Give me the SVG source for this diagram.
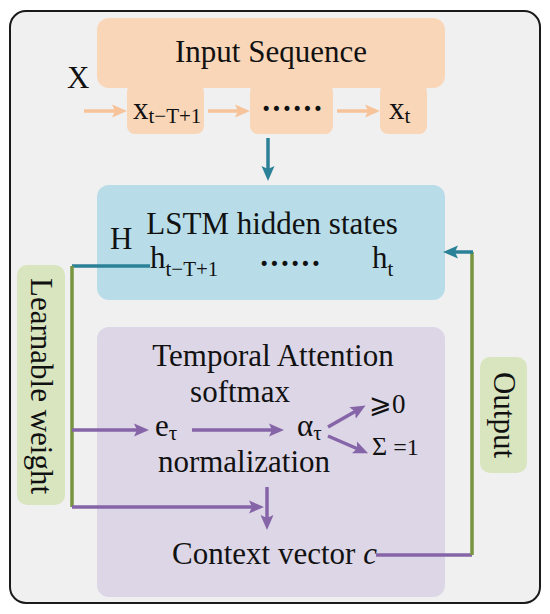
<svg xmlns="http://www.w3.org/2000/svg" width="550" height="614" viewBox="0 0 550 614">
<defs>
<style>
text{font-family:"Liberation Serif","Times New Roman",serif;fill:#111;}
.t30{font-size:31px;}
.sub{font-size:21px;}
.dots{font-size:31px;font-weight:bold;}
.ln{fill:none;stroke-width:3.5;}
.or{stroke:#f6c39a;}
.te{stroke:#2b8197;}
.pu{stroke:#8664a8;}
.gr{stroke:#77953f;}
</style>
<marker id="ao" markerUnits="userSpaceOnUse" markerWidth="15" markerHeight="15" refX="4" refY="7.5" orient="auto"><path d="M0,1 L15,7.5 L0,14 L3,7.5 z" fill="#f6c39a"/></marker>
<marker id="at" markerUnits="userSpaceOnUse" markerWidth="15" markerHeight="15" refX="4" refY="7.5" orient="auto"><path d="M0,1 L15,7.5 L0,14 L3,7.5 z" fill="#2b8197"/></marker>
<marker id="ap" markerUnits="userSpaceOnUse" markerWidth="15" markerHeight="15" refX="4" refY="7.5" orient="auto"><path d="M0,1 L15,7.5 L0,14 L3,7.5 z" fill="#8664a8"/></marker>
</defs>
<rect x="10" y="11" width="530" height="592" rx="16" fill="#f0f0f0" stroke="#1a1a1a" stroke-width="2"/>

<g id="input">
<rect x="97" y="18" width="348" height="70" rx="12" fill="#f9d6b8"/>
<text class="t30" x="271" y="62" text-anchor="middle">Input Sequence</text>
</g>
<g id="X"><text class="t30" x="67" y="88">X</text></g>
<g id="x1">
<rect x="127" y="84" width="77" height="50" rx="8" fill="#f9d6b8"/>
<text class="t30" x="133" y="119">x<tspan class="sub" dy="4">t−T+1</tspan></text>
</g>
<g id="xdots">
<rect x="250" y="84" width="83" height="50" rx="8" fill="#f9d6b8"/>
<text class="dots" x="292" y="119" text-anchor="middle">······</text>
</g>
<g id="xt">
<rect x="380" y="84" width="47" height="50" rx="8" fill="#f9d6b8"/>
<text class="t30" x="389" y="119">x<tspan class="sub" dy="4">t</tspan></text>
</g>

<g id="lstm">
<rect x="97" y="185" width="348" height="115" rx="12" fill="#b8dde8"/>
<text class="t30" x="272" y="234" text-anchor="middle">LSTM hidden states</text>
<text class="t30" x="110" y="249">H</text>
<text class="t30" x="150" y="268">h<tspan class="sub" dy="8">t−T+1</tspan></text>
<text class="dots" x="290" y="274" text-anchor="middle">······</text>
<text class="t30" x="372" y="268">h<tspan class="sub" dy="8">t</tspan></text>
</g>

<g id="learnable">
<rect x="17" y="265" width="48" height="240" rx="10" fill="#d8e5bf"/>
<text class="t30" transform="translate(41,386) rotate(90)" x="0" y="10" text-anchor="middle">Learnable weight</text>
</g>

<g id="attention">
<rect x="97" y="327" width="348" height="270" rx="12" fill="#dcd6e6"/>
<text class="t30" x="273" y="366" text-anchor="middle">Temporal Attention</text>
<text class="t30" x="240" y="402" text-anchor="middle">softmax</text>
<text class="t30" x="155" y="436">e<tspan class="sub" dy="4">τ</tspan></text>
<text class="t30" x="297" y="436">α<tspan class="sub" dy="4">τ</tspan></text>
<text x="369" y="413" font-size="27">⩾0</text>
<text x="372" y="455" font-size="26">Σ<tspan font-size="24"> =1</tspan></text>
<text class="t30" x="244" y="472" text-anchor="middle">normalization</text>
<text class="t30" x="172" y="564">Context vector <tspan font-style="italic">c</tspan></text>
</g>

<g id="output">
<rect x="480" y="357" width="47" height="116" rx="10" fill="#d8e5bf"/>
<text class="t30" transform="translate(503.5,415) rotate(90)" x="0" y="10" text-anchor="middle">Output</text>
</g>

<g id="connectors">
<line class="ln or" x1="84" y1="111" x2="116" y2="111" marker-end="url(#ao)"/>
<line class="ln or" x1="208" y1="111" x2="239" y2="111" marker-end="url(#ao)"/>
<line class="ln or" x1="337" y1="111" x2="369" y2="111" marker-end="url(#ao)"/>
<line class="ln te" x1="268" y1="138" x2="268" y2="170" marker-end="url(#at)"/>
<polyline class="ln te" points="150,266 72,266"/>
<polyline class="ln gr" points="72,266 72,507"/>
<line class="ln pu" x1="72" y1="430" x2="138" y2="430" marker-end="url(#ap)"/>
<line class="ln pu" x1="192" y1="430" x2="273" y2="430" marker-end="url(#ap)"/>
<line class="ln pu" x1="328" y1="427" x2="356" y2="411" marker-end="url(#ap)"/>
<line class="ln pu" x1="328" y1="436" x2="358" y2="449" marker-end="url(#ap)"/>
<line class="ln pu" x1="72" y1="507" x2="253" y2="507" marker-end="url(#ap)"/>
<line class="ln pu" x1="267" y1="487" x2="267" y2="519" marker-end="url(#ap)"/>
<polyline class="ln pu" points="376,555 472,555"/>
<polyline class="ln gr" points="472,555 472,252"/>
<line class="ln te" x1="473" y1="252" x2="454" y2="252" marker-end="url(#at)"/>
</g>
</svg>
